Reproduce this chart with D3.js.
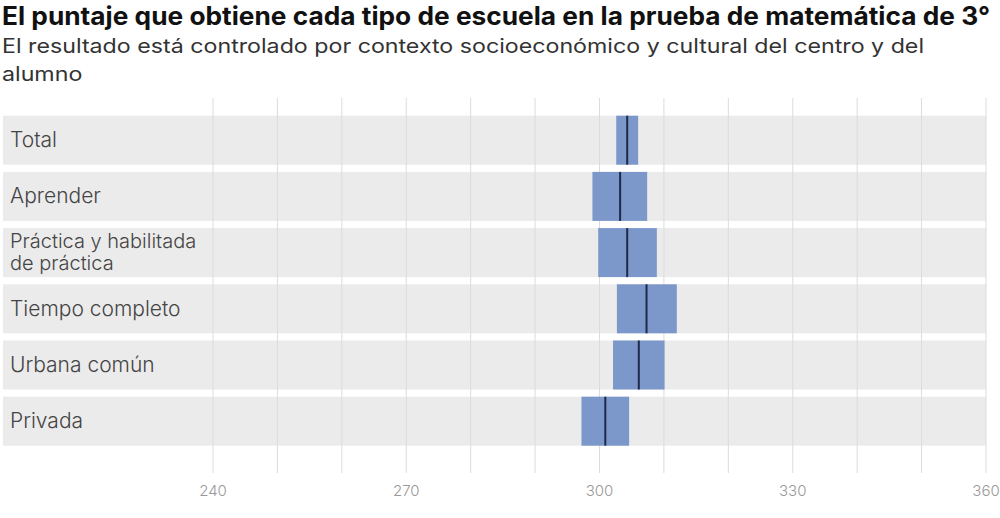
<!DOCTYPE html>
<html>
<head>
<meta charset="utf-8">
<script src="https://cdn.jsdelivr.net/npm/d3@7"></script>
<style>
  html, body { margin: 0; padding: 0; background: #fff; }
  svg { display: block; }
</style>
</head>
<body>
<svg id="chart" width="1000" height="518"></svg>
<script>
const title = "El puntaje que obtiene cada tipo de escuela en la prueba de matemática de 3°";
const subtitleLines = ["El resultado está controlado por contexto socioeconómico y cultural del centro y del", "alumno"];

const categories = ["Total", "Aprender", "Práctica y habilitada\nde práctica", "Tiempo completo", "Urbana común", "Privada"];
const lowValues = [302.6, 298.9, 299.8, 302.7, 302.1, 297.2];
const highValues = [306.0, 307.4, 308.9, 312.0, 310.1, 304.6];
const pointValues = [304.3, 303.2, 304.3, 307.3, 306.1, 300.9];
const gridValues = [240, 250, 260, 270, 280, 290, 300, 310, 320, 330, 340, 350, 360];
const tickLabels = [240, 270, 300, 330, 360];

const svg = d3.select("#chart");
const fontFamily = "Inter, 'Noto Sans', sans-serif";

const x = d3.scaleLinear().domain([240, 360]).range([213, 986]);
const y = d3.scaleBand().domain(categories).range([115.7, 445.7]).paddingInner(0.128).paddingOuter(0);

// title (reference glyphs are horizontally wide; stretch to reference width)
svg.append("text")
  .attr("x", 2).attr("y", 25)
  .attr("font-family", fontFamily)
  .attr("font-weight", 700)
  .attr("font-size", 25)
  .attr("fill", "#111")
  .attr("textLength", 988).attr("lengthAdjust", "spacingAndGlyphs")
  .text(title);

const subWidths = [922, null];
svg.selectAll("text.sub").data(subtitleLines).join("text")
  .attr("class", "sub")
  .attr("x", 2).attr("y", (d, i) => 53 + i * 28)
  .attr("font-family", fontFamily)
  .attr("font-size", 19.5)
  .attr("fill", "#333")
  .text(d => d)
  .each(function(d, i) {
    const el = d3.select(this);
    if (subWidths[i]) {
      el.attr("textLength", subWidths[i]).attr("lengthAdjust", "spacingAndGlyphs");
    } else {
      const w = this.getComputedTextLength();
      el.attr("textLength", w * 1.19).attr("lengthAdjust", "spacingAndGlyphs");
    }
  });

// bands
svg.append("g").selectAll("rect").data(categories).join("rect")
  .attr("x", 3)
  .attr("width", 986 - 3)
  .attr("y", d => y(d))
  .attr("height", y.bandwidth())
  .attr("fill", "#ebebeb");

// gridlines
svg.append("g").selectAll("line").data(gridValues).join("line")
  .attr("x1", d => x(d)).attr("x2", d => x(d))
  .attr("y1", 98).attr("y2", 473)
  .attr("stroke", "#dcdcdc")
  .attr("stroke-width", 1);

// tick labels
svg.append("g").selectAll("text").data(tickLabels).join("text")
  .attr("x", d => x(d))
  .attr("y", 496)
  .attr("text-anchor", "middle")
  .attr("font-family", fontFamily)
  .attr("font-size", 15)
  .attr("font-weight", 300)
  .attr("fill", "#999")
  .text(d => d);

// category labels (each line its own text element)
const labelLines = [];
categories.forEach(c => {
  const lines = c.split("\n");
  const cy = y(c) + y.bandwidth() / 2;
  const lh = 22;
  lines.forEach((ln, i) => {
    labelLines.push({
      text: ln,
      multi: lines.length > 1,
      y: cy + (i - (lines.length - 1) / 2) * lh + (lines.length > 1 ? 6 : 7)
    });
  });
});
svg.append("g").selectAll("text").data(labelLines).join("text")
  .attr("x", 10)
  .attr("y", d => d.y)
  .attr("font-family", fontFamily)
  .attr("font-size", d => d.multi ? 20 : 21)
  .attr("font-weight", 300)
  .attr("fill", "#444")
  .text(d => d.text);

// interval bars
const rows = categories.map((c, i) => ({c, lo: lowValues[i], hi: highValues[i], p: pointValues[i]}));
svg.append("g").selectAll("rect").data(rows).join("rect")
  .attr("x", d => x(d.lo))
  .attr("width", d => x(d.hi) - x(d.lo))
  .attr("y", d => y(d.c))
  .attr("height", y.bandwidth())
  .attr("fill", "#7c97c9");

svg.append("g").selectAll("line").data(rows).join("line")
  .attr("x1", d => x(d.p)).attr("x2", d => x(d.p))
  .attr("y1", d => y(d.c)).attr("y2", d => y(d.c) + y.bandwidth())
  .attr("stroke", "#1d2b4a")
  .attr("stroke-width", 2);
</script>
</body>
</html>
